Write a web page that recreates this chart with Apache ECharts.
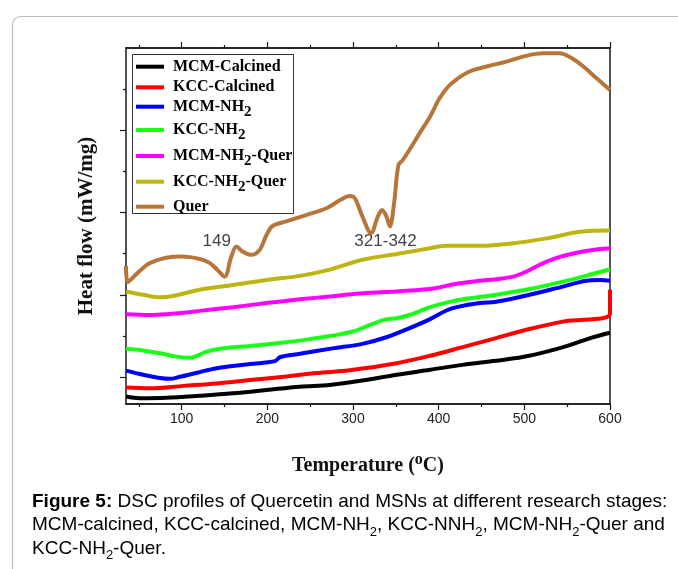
<!DOCTYPE html>
<html>
<head>
<meta charset="utf-8">
<script src="https://cdn.jsdelivr.net/npm/echarts@6/dist/echarts.min.js"></script>
<style>
html,body{margin:0;padding:0;background:#fff;}
#chart{width:678px;height:569px;}
</style>
</head>
<body>
<div id="chart"></div>
<script>
// ---- data (temperature in °C, heat flow in arbitrary offset units) ----
var seriesNames = ['MCM-Calcined','KCC-Calcined','MCM-NH2','KCC-NH2','MCM-NH2-Quer','KCC-NH2-Quer','Quer'];

var mcmCalT = [35,51,82,121,160,199,238,273,311,351,390,428,467,498,526,553,577,600];
var mcmCalV = [-0.47,-0.51,-0.50,-0.45,-0.39,-0.31,-0.23,-0.19,-0.08,0.06,0.18,0.30,0.40,0.49,0.62,0.78,0.95,1.08];

var kccCalT = [35,63,102,141,180,219,258,296,351,390,428,467,506,545,600,600];
var kccCalV = [-0.25,-0.27,-0.21,-0.15,-0.07,0.01,0.10,0.17,0.34,0.52,0.73,0.95,1.17,1.35,1.54,2.12];

var mcmNh2T = [35,55,75,86,98,118,141,180,209,215,238,276,311,339,366,390,409,421,448,467,506,545,572,588,600];
var mcmNh2V = [0.16,0.06,-0.02,-0.04,0.01,0.11,0.22,0.32,0.39,0.49,0.57,0.70,0.81,0.97,1.19,1.41,1.62,1.70,1.80,1.83,2.00,2.20,2.34,2.36,2.34];

var kccNh2T = [35,55,75,94,110,118,129,145,180,219,258,273,300,320,339,351,366,390,409,428,467,506,545,572,600];
var kccNh2V = [0.69,0.65,0.58,0.50,0.47,0.52,0.62,0.69,0.76,0.84,0.95,1.00,1.11,1.27,1.41,1.43,1.51,1.70,1.81,1.89,2.00,2.14,2.32,2.46,2.62];

var mcmQuerT = [35,63,82,121,160,199,238,273,311,351,390,401,424,448,467,487,502,518,537,561,580,600];
var mcmQuerV = [1.53,1.51,1.53,1.61,1.70,1.80,1.89,1.96,2.04,2.08,2.14,2.18,2.28,2.34,2.38,2.44,2.56,2.73,2.89,3.02,3.09,3.13];

var kccQuerT = [35,55,75,90,106,125,160,199,238,273,311,351,390,409,448,487,526,565,600];
var kccQuerV = [2.08,2.00,1.94,1.97,2.05,2.14,2.24,2.36,2.46,2.61,2.85,2.99,3.13,3.19,3.19,3.25,3.37,3.53,3.56];

var querT = [35,37,50,63,82,100,121,133,142,150,158,164,171,181,191,199,206,222,246,269,285,296,302,311,321,329,334,339,343,348,353,358,366,378,390,401,411,421,436,456,479,502,522,541,553,569,584,600];
var querV = [2.70,2.31,2.56,2.77,2.90,2.93,2.87,2.77,2.60,2.44,2.93,3.17,3.05,2.97,3.09,3.45,3.67,3.78,3.94,4.10,4.30,4.40,4.35,3.90,3.50,3.90,4.06,3.90,3.66,4.23,5.15,5.27,5.52,5.93,6.33,6.77,7.05,7.23,7.42,7.54,7.66,7.80,7.86,7.86,7.77,7.54,7.26,6.97];

var xMajorTicks = [100,200,300,400,500,600];
var xMinorTicks = [50,150,250,350,450,550];
var yMajorTicks = [0,2,4,6];
var yMinorTicks = [1,3,5,7];
var annotations = [{text:'149', T:141, v:3.3}, {text:'321-342', T:338, v:3.31}];

var colors = ['#000000','#ff0000','#0000ff','#1aff1a','#ff00ff','#bdb512','#b8753a'];
var seriesT = [mcmCalT,kccCalT,mcmNh2T,kccNh2T,mcmQuerT,kccQuerT,querT];
var seriesV = [mcmCalV,kccCalV,mcmNh2V,kccNh2V,mcmQuerV,kccQuerV,querV];

function pairs(xs, ys){ return xs.map(function(x,i){ return [x, ys[i]]; }); }

var chart = echarts.init(document.getElementById('chart'));
var X_MIN = 35, X_MAX = 600, Y_MIN = -0.65, Y_MAX = 7.99;
var axisColor = '#1a1a1a';

function xAx(pos, ticks, len, labels){
  return {
    type:'value', position:pos, min:X_MIN, max:X_MAX,
    axisLine:{show:true, onZero:false, lineStyle:{color:axisColor, width:1.5}},
    axisTick:{show:true, inside:false, length:len, customValues:ticks, lineStyle:{color:axisColor, width:1.2}},
    axisLabel:{show:labels, customValues:ticks, color:'#222', fontFamily:'Liberation Sans', fontSize:14, margin:8},
    splitLine:{show:false}
  };
}
function yAx(pos, ticks, len, showLine){
  return {
    type:'value', position:pos, min:Y_MIN, max:Y_MAX,
    axisLine:{show:showLine, onZero:false, lineStyle:{color:axisColor, width:1.5}},
    axisTick:{show:ticks.length>0, inside:false, length:len, customValues:ticks, lineStyle:{color:axisColor, width:1.2}},
    axisLabel:{show:false},
    splitLine:{show:false}
  };
}

var xAxes = [xAx('bottom', xMajorTicks, 6, true), xAx('bottom', xMinorTicks, 3, false), xAx('top', xMajorTicks, 6, false), xAx('top', xMinorTicks, 3, false)];
xAxes[0].name = '{t|Temperature (}{sup|o}{t|C)}';
xAxes[0].nameLocation = 'middle';
xAxes[0].nameGap = 48;
xAxes[0].nameTextStyle = {rich:{
  t:{fontFamily:'Liberation Serif', fontWeight:'bold', fontSize:20, color:'#111'},
  sup:{fontFamily:'Liberation Serif', fontWeight:'bold', fontSize:16, color:'#111', padding:[0,0,12,0]}
}};
var yAxes = [yAx('left', yMajorTicks, 6, true), yAx('left', yMinorTicks, 3, false), yAx('right', [], 0, true)];
yAxes[0].name = 'Heat flow (mW/mg)';
yAxes[0].nameLocation = 'middle';
yAxes[0].nameGap = 29;
yAxes[0].nameTextStyle = {fontFamily:'Liberation Serif', fontWeight:'bold', fontSize:21, color:'#111'};

var series = seriesNames.map(function(n,i){
  return {
    name:n, type:'line', xAxisIndex:0, yAxisIndex:0,
    data: pairs(seriesT[i], seriesV[i]),
    smooth:0.35, showSymbol:false, symbol:'none',
    lineStyle:{color:colors[i], width:4}, itemStyle:{color:colors[i]},
    z: 2 + i, animation:false
  };
});
series.push({
  type:'scatter', xAxisIndex:0, yAxisIndex:0, symbolSize:0, silent:true,
  data: annotations.map(function(a){ return {value:[a.T, a.v], label:{show:true, formatter:a.text}}; }),
  label:{show:true, position:'inside', color:'#111', fontFamily:'Liberation Sans', fontSize:17},
  animation:false
});

// legend (drawn with graphic for exact placement)
var legendY = [66.7, 87.3, 106.7, 130, 156, 181.7, 206.7];
var legendLabels = ['{m|MCM-Calcined}','{m|KCC-Calcined}','{m|MCM-NH}{s|2}','{m|KCC-NH}{s|2}','{m|MCM-NH}{s|2}{m|-Quer}','{m|KCC-NH}{s|2}{m|-Quer}','{m|Quer}'];
var legRich = {
  m:{fontFamily:'Liberation Serif', fontWeight:'bold', fontSize:16, color:'#111'},
  s:{fontFamily:'Liberation Serif', fontWeight:'bold', fontSize:15, color:'#111', padding:[10,0,0,0]}
};
var graphics = [
  {type:'rect', shape:{x:12.5, y:16.5, width:720, height:620, r:8}, style:{fill:'none', stroke:'#bdbdbd', lineWidth:1.2}, silent:true, z:0},
  {type:'rect', shape:{x:132.5, y:54.5, width:161, height:159}, style:{fill:'#fff', stroke:'#333', lineWidth:1}, z:50}
];
legendY.forEach(function(y,i){
  graphics.push({type:'line', shape:{x1:136, y1:y, x2:164, y2:y}, style:{stroke:colors[i], lineWidth:4}, z:51});
  graphics.push({type:'text', x:173, y:y, style:{text:legendLabels[i], rich:legRich, verticalAlign:'middle', align:'left'}, z:51});
});
// caption
var capRich = {
  b:{fontFamily:'Liberation Sans', fontWeight:'bold', fontSize:19, color:'#222'},
  r:{fontFamily:'Liberation Sans', fontSize:19, color:'#222'},
  s:{fontFamily:'Liberation Sans', fontSize:13, color:'#222', padding:[14,0,0,0]}
};
var capLines = [
  '{b|Figure 5:}{r| DSC profiles of Quercetin and MSNs at different research stages:}',
  '{r|MCM-calcined, KCC-calcined, MCM-NH}{s|2}{r|, KCC-NNH}{s|2}{r|, MCM-NH}{s|2}{r|-Quer and}',
  '{r|KCC-NH}{s|2}{r|-Quer.}'
];
var capY = [501.5, 525, 548.5];
capLines.forEach(function(t,i){
  graphics.push({type:'text', x:32, y:capY[i], style:{text:t, rich:capRich, verticalAlign:'middle', align:'left'}, z:51});
});

chart.setOption({
  animation:false,
  backgroundColor:'#ffffff',
  grid:{left:126, right:68, top:48, bottom:165, containLabel:false},
  xAxis:xAxes,
  yAxis:yAxes,
  series:series,
  graphic:graphics
});
</script>
</body>
</html>
